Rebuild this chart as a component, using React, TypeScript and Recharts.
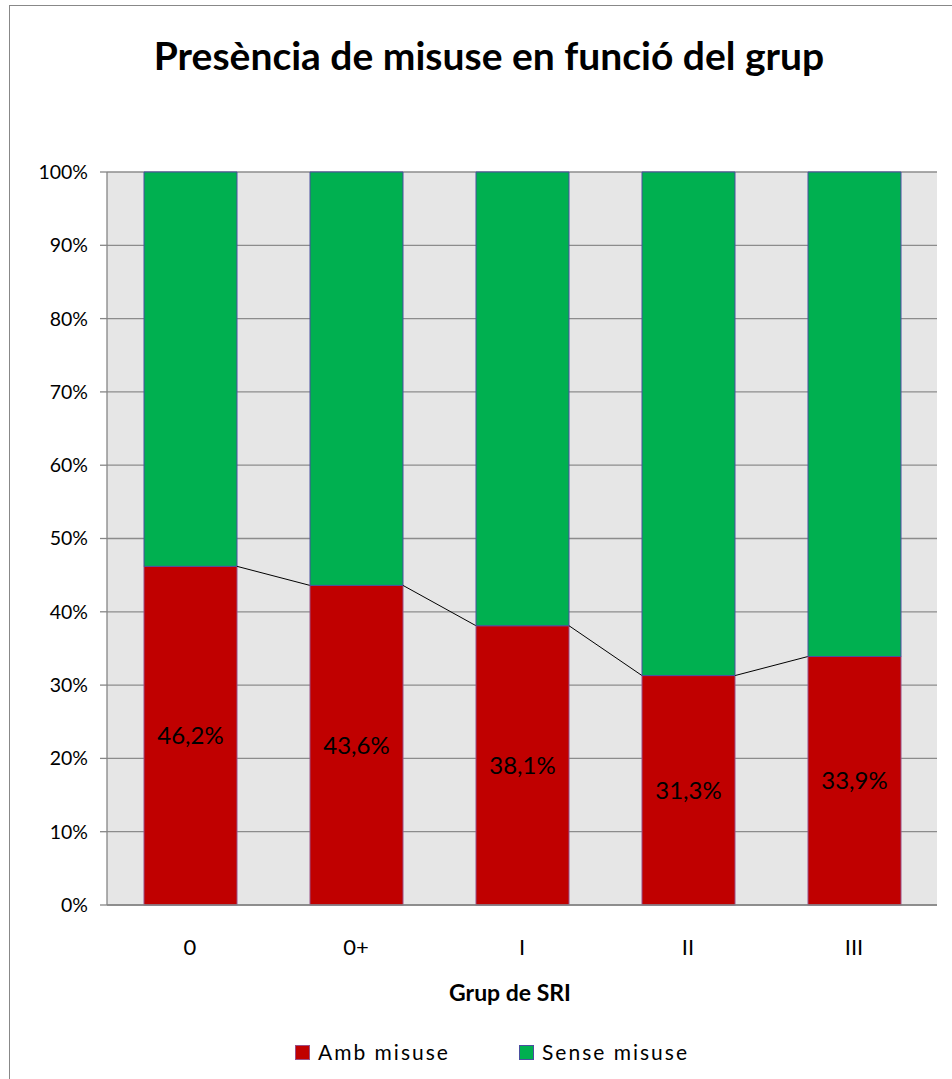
import { BarChart, Bar, XAxis, YAxis, CartesianGrid, LabelList } from 'recharts';

const groups = ['0', '0+', 'I', 'II', 'III'];
const ambMisuse = [46.2, 43.6, 38.1, 31.3, 33.9];
const senseMisuse = [53.8, 56.4, 61.9, 68.7, 66.1];
const yTicks = [0, 10, 20, 30, 40, 50, 60, 70, 80, 90, 100];

const chartData = groups.map((g, i) => ({ group: g, amb: ambMisuse[i], sense: senseMisuse[i] }));

const W = 952;
const H = 1079;
// x axis height (30) is added on top of the bottom margin
const margin = { top: 172, right: 15, bottom: 144, left: 0 };
const yAxisWidth = 107;
const step = (W - margin.left - margin.right - yAxisWidth) / groups.length;
const font = 'Lato, "Noto Sans", sans-serif';

const RED = '#C00000';
const GREEN = '#00B050';

// red bar plus the Excel-style series line to the next red bar
function AmbShape(props: any) {
  const { x, y, width, height, index } = props;
  const bottom = y + height;
  const next = ambMisuse[index + 1];
  let line = null;
  if (next !== undefined && ambMisuse[index] > 0) {
    const ny = bottom - (next * height) / ambMisuse[index];
    line = <line x1={x + width} y1={y} x2={x + step} y2={ny} stroke="#000" strokeWidth={1} />;
  }
  return (
    <g>
      <rect x={x} y={y} width={width} height={height} fill={RED} stroke="#9A4F86" strokeWidth={1} />
      {line}
    </g>
  );
}

function ChartLegend() {
  const item = (color: string, border: string, text: string, left: number) => (
    <div style={{ position: 'absolute', left, top: 0, display: 'flex', alignItems: 'center' }}>
      <span style={{ width: 13, height: 13, background: color, border: `1px solid ${border}`, marginRight: 8 }} />
      <span style={{ fontSize: 21, color: '#000', letterSpacing: 2, lineHeight: '24px' }}>{text}</span>
    </div>
  );
  return (
    <div style={{ position: 'absolute', left: 0, top: 1040, width: W, height: 26, fontFamily: font }}>
      {item(RED, '#9A4F86', 'Amb misuse', 295)}
      {item(GREEN, '#4B4FA0', 'Sense misuse', 519)}
    </div>
  );
}

export default function App() {
  return (
    <div style={{ position: 'fixed', left: 0, top: 0, width: W, height: H, overflow: 'hidden', background: '#fff' }}>
      <div style={{ position: 'absolute', left: 9, top: 5, width: 980, height: 1200, border: '1px solid #888' }} />
      <div style={{ position: 'absolute', left: 13, top: 31, width: W, textAlign: 'center', fontFamily: font, fontWeight: 700, fontSize: 39, color: '#000', lineHeight: '48px' }}>
        Presència de misuse en funció del grup
      </div>
      <div style={{ position: 'absolute', left: 0, top: 0 }}>
        <BarChart width={W} height={H} data={chartData} margin={margin} barSize={93}>
          <CartesianGrid vertical={false} fill="#E6E6E6" stroke="#8C8C8C" strokeWidth={1.3} />
          <XAxis
            dataKey="group"
            tickLine={false}
            axisLine={{ stroke: '#868686', strokeWidth: 1.3 }}
            tickMargin={28}
            tick={{ fontSize: 22, fill: '#000', fontFamily: font }}
          />
          <YAxis
            width={yAxisWidth}
            domain={[0, 100]}
            ticks={yTicks}
            interval={0}
            tickFormatter={(v) => `${v}%`}
            tickSize={7}
            tickMargin={12}
            axisLine={{ stroke: '#868686', strokeWidth: 1.3 }}
            tickLine={{ stroke: '#868686', strokeWidth: 1.3 }}
            tick={{ fontSize: 19.5, fill: '#000', fontFamily: font }}
          />
          <Bar dataKey="amb" name="Amb misuse" stackId="a" fill={RED} shape={<AmbShape />} isAnimationActive={false}>
            <LabelList
              dataKey="amb"
              position="center"
              formatter={(v: any) => `${Number(v).toFixed(1).replace('.', ',')}%`}
              style={{ fontSize: 24, fill: '#000', fontFamily: font }}
            />
          </Bar>
          <Bar dataKey="sense" name="Sense misuse" stackId="a" fill={GREEN} stroke="#4B4FA0" strokeWidth={1} isAnimationActive={false} />
        </BarChart>
      </div>
      <div style={{ position: 'absolute', left: 410, top: 978, width: 200, textAlign: 'center', fontFamily: font, fontWeight: 700, fontSize: 23, color: '#000', lineHeight: '28px' }}>
        Grup de SRI
      </div>
      <ChartLegend />
    </div>
  );
}
